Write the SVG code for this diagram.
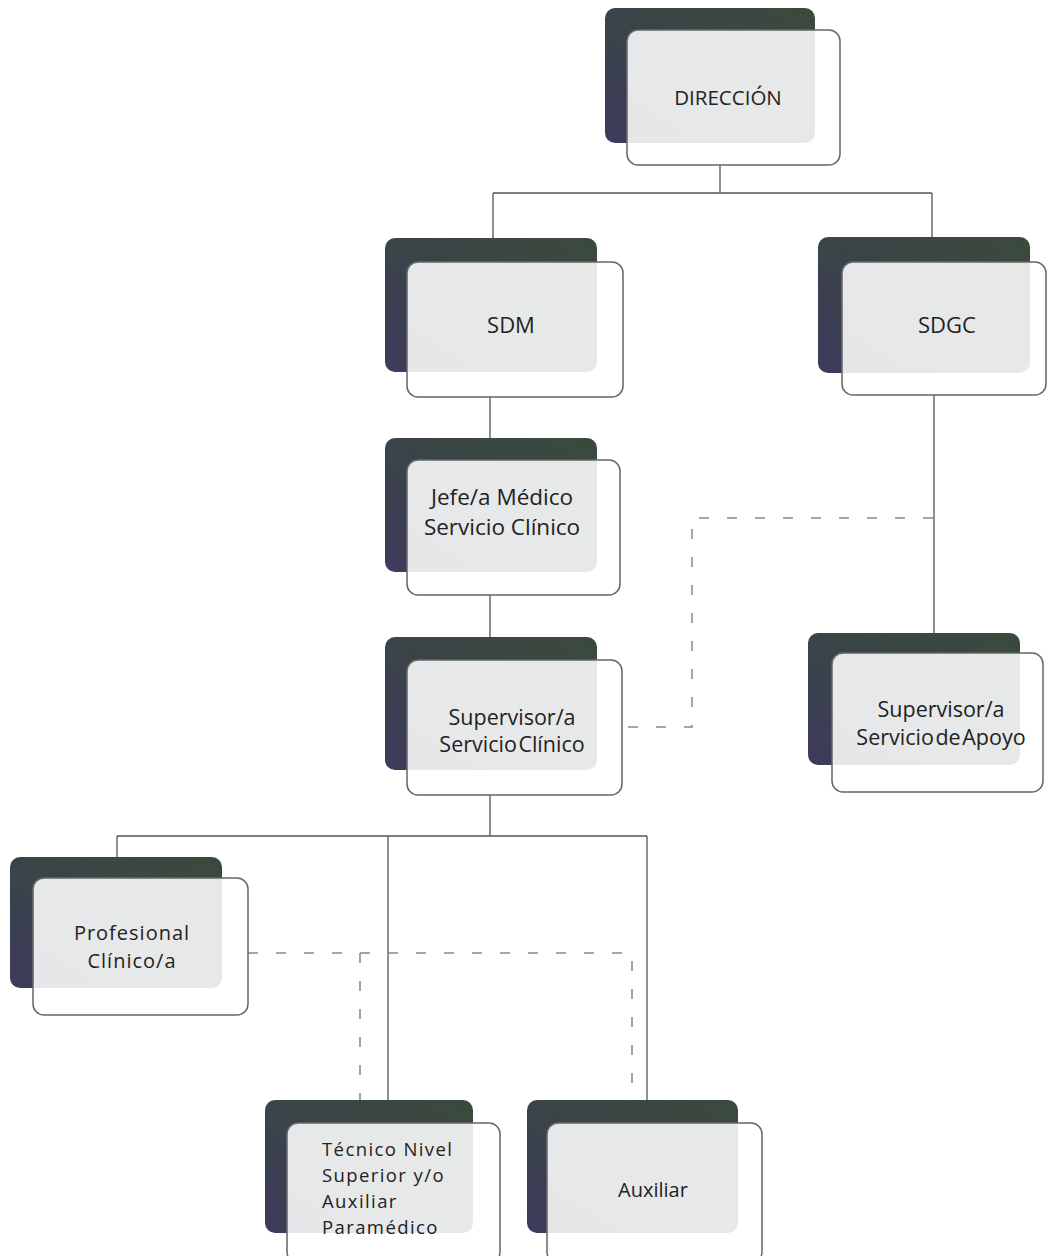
<svg xmlns="http://www.w3.org/2000/svg" width="1048" height="1256" viewBox="0 0 1048 1256">
<defs>
<linearGradient id="bk" x1="1" y1="0" x2="0" y2="1">
<stop offset="0" stop-color="#3b4a3c"/>
<stop offset="0.5" stop-color="#3a4448"/>
<stop offset="1" stop-color="#3d3b5c"/>
</linearGradient>
<style>
.back{fill:url(#bk)}
.front{fill:#ffffff;fill-opacity:0.88;stroke:#666;stroke-width:1.5}
.t{font-family:"Open Sans","Liberation Sans",sans-serif;font-size:20px;fill:#222;text-anchor:middle}
.tl{font-family:"Open Sans","Liberation Sans",sans-serif;font-size:18.5px;fill:#222;letter-spacing:1.4px}
.ln{fill:none;stroke:#555;stroke-width:1.3}
.dl{fill:none;stroke:#888;stroke-width:1.5;stroke-dasharray:10 18}
</style>
</defs>
<rect width="1048" height="1256" fill="#ffffff"/>
<g id="connectors">
<path class="ln" d="M720 165V193M493 193H932M493 193V238M932 193V237"/>
<path class="ln" d="M490 397V438M490 595V637"/>
<path class="ln" d="M934 395V633"/>
<path class="dl" d="M933 518H692V727H622"/>
<path class="ln" d="M490 795V836M117 836H647M117 836V857M388 836V1100M647 836V1100"/>
<path class="dl" d="M248 953H632V1100M360 953V1100"/>
</g>
<g id="n-direccion">
<rect class="back" x="605" y="8" width="210" height="135" rx="10"/>
<rect class="front" x="627" y="30" width="213" height="135" rx="11"/>
<text class="t" x="728" y="105" style="font-size:20.5px">DIRECCIÓN</text>
</g>
<g id="n-sdm">
<rect class="back" x="385" y="238" width="212" height="134" rx="10"/>
<rect class="front" x="407" y="262" width="216" height="135" rx="11"/>
<text class="t" x="511" y="333" style="font-size:22px">SDM</text>
</g>
<g id="n-sdgc">
<rect class="back" x="818" y="237" width="212" height="136" rx="10"/>
<rect class="front" x="842" y="262" width="204" height="133" rx="11"/>
<text class="t" x="947" y="333" style="font-size:22px">SDGC</text>
</g>
<g id="n-jefe">
<rect class="back" x="385" y="438" width="212" height="134" rx="10"/>
<rect class="front" x="407" y="460" width="213" height="135" rx="11"/>
<text class="t" x="502" y="505" style="font-size:22.5px">Jefe/a Médico</text>
<text class="t" x="502" y="535" style="font-size:22.5px">Servicio Clínico</text>
</g>
<g id="n-supervisor-clinico">
<rect class="back" x="385" y="637" width="212" height="133" rx="10"/>
<rect class="front" x="407" y="660" width="215" height="135" rx="11"/>
<text class="t" x="512" y="725" style="font-size:21.5px">Supervisor/a</text>
<text class="t" x="512" y="752" style="font-size:21.5px;word-spacing:-4px">Servicio Clínico</text>
</g>
<g id="n-supervisor-apoyo">
<rect class="back" x="808" y="633" width="212" height="132" rx="10"/>
<rect class="front" x="832" y="653" width="211" height="139" rx="11"/>
<text class="t" x="941" y="717" style="font-size:21.5px">Supervisor/a</text>
<text class="t" x="941" y="745" style="font-size:21.5px;word-spacing:-4px">Servicio de Apoyo</text>
</g>
<g id="n-profesional">
<rect class="back" x="10" y="857" width="212" height="131" rx="10"/>
<rect class="front" x="33" y="878" width="215" height="137" rx="11"/>
<text class="t" x="132" y="940" style="letter-spacing:1px">Profesional</text>
<text class="t" x="132" y="968" style="letter-spacing:1px">Clínico/a</text>
</g>
<g id="n-tecnico">
<rect class="back" x="265" y="1100" width="208" height="133" rx="10"/>
<rect class="front" x="287" y="1123" width="213" height="140" rx="11"/>
<text class="tl" x="322" y="1156">Técnico Nivel</text>
<text class="tl" x="322" y="1182">Superior y/o</text>
<text class="tl" x="322" y="1208">Auxiliar</text>
<text class="tl" x="322" y="1234">Paramédico</text>
</g>
<g id="n-auxiliar">
<rect class="back" x="527" y="1100" width="211" height="133" rx="10"/>
<rect class="front" x="547" y="1123" width="215" height="140" rx="11"/>
<text class="t" x="653" y="1197">Auxiliar</text>
</g>
</svg>
